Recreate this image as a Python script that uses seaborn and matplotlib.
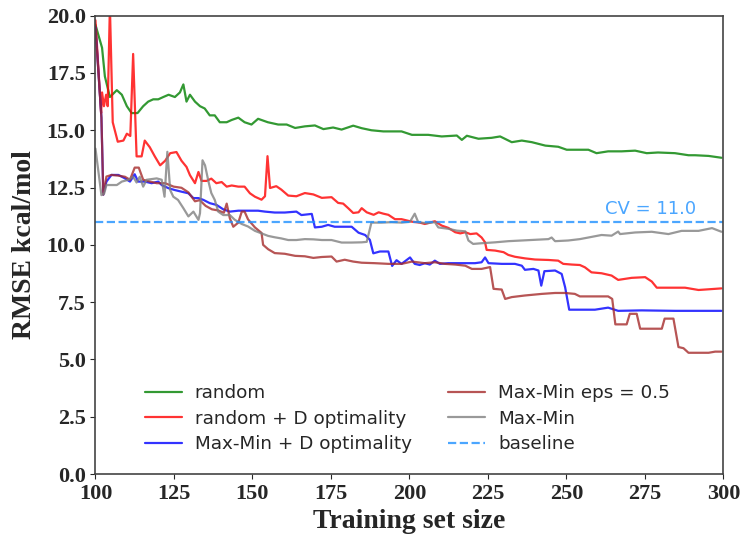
import pandas as pd
import seaborn as sns
import matplotlib.pyplot as plt

# --- data ---
random_x = [100, 102.1, 103.0, 104.6, 106.8, 108.4, 110.0, 111.5, 113.4, 115.2, 116.8, 118.4,
            120.0, 121.6, 123.3, 125.3, 126.9, 128.0, 129.0, 130.1, 131.7, 133.3, 134.8, 136.4,
            138.0, 139.6, 141.8, 143.4, 145.5, 147.5, 149.7, 151.8, 154.9, 158.2, 160.9, 163.6,
            166.7, 169.9, 172.6, 175.7, 178.4, 182.1, 184.8, 187.9, 191.7, 194.9, 197.5, 200.8,
            206.0, 210.3, 215.1, 216.7, 218.3, 222.0, 226.2, 228.9, 232.6, 235.8, 239.0,
            243.3, 247.4, 250.1, 254.3, 257.0, 259.6, 263.3, 267.6, 271.9, 275.6, 279.2,
            284.6, 288.9, 291, 295.3, 299.4]
random_y = [19.6, 18.6, 17.35, 16.45, 16.75, 16.55, 16.05, 15.75, 15.75, 16.05, 16.25, 16.35,
            16.35, 16.45, 16.55, 16.45, 16.65, 17.0, 16.25, 16.55, 16.25, 16.05, 15.95, 15.65,
            15.65, 15.35, 15.35, 15.45, 15.55, 15.35, 15.25, 15.5, 15.35, 15.25, 15.25, 15.1,
            15.17, 15.21, 15.05, 15.12, 15.03, 15.2, 15.09, 15.0, 14.95, 14.95, 14.95, 14.8,
            14.8, 14.73, 14.77, 14.58, 14.76, 14.63, 14.67, 14.73, 14.48, 14.55, 14.48,
            14.33, 14.28, 14.15, 14.15, 14.15, 14.0, 14.08, 14.08, 14.11, 14.0, 14.03,
            14.0, 13.91, 13.91, 13.88, 13.8]

rand_d_x = [100, 101.8, 102.1, 102.7, 103.4, 103.9, 104.6, 105.5, 107.1, 108.9, 110.0, 111.1,
            112.0, 113.1, 114.7, 115.7, 117.3, 118.9, 120.6, 122.2, 123.8, 125.8, 127.4,
            129.0, 130.1, 131.7, 132.8, 133.8, 135.4, 136.9, 138.5, 140.2, 141.8, 143.4,
            145.5, 147.5, 149.2, 150.8, 152.9, 154.0, 154.8, 155.6, 157.6, 159.2, 161.4,
            164.0, 166.7, 169.4, 172.1, 175.2, 177.3, 178.9, 180.5, 182.1, 183.8, 184.8, 186.4,
            188.6, 190.2, 191.7, 193.3, 195.4, 197.5, 200.8, 203.3, 204.9, 208.1, 210.3,
            212.4, 214.6, 216.2, 217.8, 219.4, 221.4, 223.0, 224.1, 224.6, 227.3, 230.0,
            231.5, 233.6, 236.8, 240.0, 244.3, 247.4, 249.0, 251.7, 254.3, 255.9, 258.0,
            261.2, 264.4, 266.5, 270.8, 275.1, 277.2, 278.8, 282.5, 287.8, 292.1, 295.3, 299.4]
rand_d_y = [19.8, 15.75, 16.65, 16.05, 16.55, 16.05, 20.4, 15.35, 14.5, 14.55, 14.85, 14.75,
            18.33, 13.86, 13.86, 14.55, 14.26, 13.86, 13.47, 13.67, 14.0, 14.05, 13.67,
            13.4, 13.04, 12.69, 13.18, 12.79, 12.79, 12.89, 12.69, 12.74, 12.54, 12.59,
            12.54, 12.54, 12.25, 12.1, 11.97, 12.12, 13.87, 12.48, 12.56, 12.41, 12.15,
            12.12, 12.26, 12.2, 12.05, 12.08, 11.83, 11.8, 11.6, 11.39, 11.42, 11.6, 11.42,
            11.31, 11.42, 11.36, 11.31, 11.12, 11.12, 11.01, 10.97, 10.91, 11.03, 10.84,
            10.74, 10.55, 10.5, 10.55, 10.47, 10.5, 10.32, 10.11, 9.78, 9.75, 9.68,
            9.56, 9.48, 9.41, 9.36, 9.34, 9.31, 9.17, 9.14, 9.12, 9.02, 8.8,
            8.76, 8.66, 8.47, 8.56, 8.59, 8.4, 8.13, 8.13, 8.13, 8.03, 8.06, 8.1]

mm_d_x = [100, 101.9, 102.5, 103.5, 105.1, 107.3, 109.4, 111.0, 112.5, 113.6, 115.7, 117.9,
          120.0, 121.1, 123.3, 125.3, 127.4, 129.6, 131.2, 132.8, 134.4, 136.4, 138.6, 140.7,
          142.8, 145.5, 148.6, 151.8, 154.0, 157.1, 160.3, 164.0, 165.6, 168.9, 169.9, 172.1,
          174.1, 176.2, 178.9, 181.6, 183.8, 185.9, 187.4, 188.5, 190.6, 193.3, 194.5,
          195.9, 197.5, 200.2, 201.7, 203.3, 204.9, 206.5, 208.1, 209.7, 212.4, 216.7,
          220.9, 223.0, 224.1, 225.2, 229.4, 233.6, 235.8, 236.8, 239.5, 241.1, 242.0,
          243.0, 246.4, 248.5, 249.6, 250.9, 254.3, 259.1, 263.3, 266.5, 274.0, 284.6, 299.4]
mm_d_y = [19.5, 15.55, 12.19, 12.76, 13.05, 13.05, 12.9, 12.76, 13.08, 12.76, 12.76, 12.69,
          12.76, 12.61, 12.47, 12.39, 12.32, 12.25, 12.04, 12.04, 11.96, 11.82, 11.74, 11.55,
          11.45, 11.49, 11.49, 11.49, 11.45, 11.41, 11.41, 11.45, 11.3, 11.35, 10.76, 10.79,
          10.87, 10.79, 10.79, 10.79, 10.53, 10.43, 10.22, 9.63, 9.71, 9.71, 9.08,
          9.33, 9.17, 9.45, 9.17, 9.12, 9.2, 9.14, 9.31, 9.17, 9.2, 9.2,
          9.2, 9.24, 9.45, 9.2, 9.17, 9.17, 9.09, 8.91, 8.95, 8.88, 8.22,
          8.85, 8.88, 8.73, 8.15, 7.17, 7.17, 7.17, 7.26, 7.12, 7.14, 7.12, 7.12]

mm_eps_x = [100, 101.9, 102.5, 103.5, 105.1, 107.3, 109.4, 111.0, 112.5, 113.8, 115.2, 117.4,
            119.5, 122.2, 124.9, 127.4, 129.6, 131.7, 133.2, 135.1, 137.1, 139.1, 140.9, 141.8,
            142.8, 143.9, 145.5, 146.6, 147.5, 148.6, 150.8, 152.9, 153.4, 155.0, 157.1,
            160.3, 163.6, 166.7, 169.4, 172.1, 175.2, 176.8, 179.4, 182.1, 184.8, 189.0, 193.3,
            197.5, 200.8, 204.9, 208.1, 211.3, 214.6, 217.8, 219.9, 223.0, 225.7, 226.8,
            229.4, 230.5, 232.6, 236.8, 242.2, 246.4, 249.6, 252.7, 254.3, 259.1, 263.3,
            264.6, 265.6, 269.2, 270.2, 272.4, 273.5, 276.7, 280.4, 281.3, 284.1, 285.7,
            287.3, 288.9, 295.3, 297.4, 299.4]
mm_eps_y = [19.5, 15.55, 12.19, 12.98, 13.05, 13.02, 12.97, 12.84, 13.37, 13.37, 12.84, 12.76,
            12.69, 12.69, 12.54, 12.49, 12.29, 11.9, 11.95, 11.7, 11.55, 11.5, 11.4, 11.8,
            11.16, 10.79, 10.97, 11.45, 11.45, 11.11, 10.76, 10.52, 10.0, 9.81, 9.64,
            9.61, 9.52, 9.5, 9.43, 9.47, 9.49, 9.27, 9.35, 9.27, 9.22, 9.2, 9.17,
            9.17, 9.27, 9.2, 9.24, 9.17, 9.14, 9.09, 8.95, 8.95, 9.03, 8.08,
            8.05, 7.64, 7.72, 7.79, 7.86, 7.9, 7.9, 7.86, 7.75, 7.75, 7.75,
            7.64, 6.53, 6.53, 6.99, 6.99, 6.34, 6.34, 6.34, 6.78, 6.78, 5.54,
            5.49, 5.29, 5.29, 5.34, 5.34]

mm_x = [100, 101.9, 102.8, 103.5, 105.1, 106.8, 108.4, 110.5, 112.0, 113.1, 114.1, 115.2,
        116.3, 117.9, 119.5, 121.1, 122.0, 122.9, 123.8, 124.8, 126.3, 128.0, 129.6, 131.2,
        132.8, 133.3, 134.1, 134.9, 136.0, 136.9, 138.0, 139.1, 140.7, 142.8, 144.4, 146.6,
        148.6, 150.8, 152.9, 155.0, 157.1, 159.2, 161.4, 164.0, 166.7, 169.4, 172.1, 175.2,
        178.4, 181.6, 184.8, 186.4, 187.9, 191.1, 194.3, 197.5, 200.2, 201.7, 202.8, 205.5,
        208.1, 209.2, 212.4, 215.1, 217.8, 218.8, 220.3, 223.0, 227.3, 231.5, 235.8,
        240.0, 244.3, 245.3, 246.4, 250.6, 254.3, 257.0, 261.2, 264.4, 266.5, 267.1, 271.9,
        277.2, 282.5, 286.7, 292.1, 296.4, 299.4]
mm_y = [14.2, 12.17, 12.25, 12.61, 12.61, 12.61, 12.76, 12.84, 12.97, 12.72, 12.97, 12.54,
        12.84, 12.87, 12.9, 12.84, 12.1, 14.06, 12.39, 12.1, 11.96, 11.6, 11.24, 11.45,
        11.09, 11.38, 13.69, 13.47, 12.76, 12.26, 11.96, 11.45, 11.3, 11.3, 11.09, 10.91,
        10.8, 10.61, 10.5, 10.39, 10.33, 10.28, 10.21, 10.21, 10.25, 10.24, 10.21, 10.21,
        10.1, 10.1, 10.11, 10.13, 10.97, 10.97, 10.99, 10.97, 11.01, 11.36, 10.99, 10.94,
        10.99, 10.76, 10.7, 10.62, 10.59, 10.19, 10.04, 10.07, 10.11, 10.16, 10.19,
        10.22, 10.25, 10.32, 10.16, 10.19, 10.25, 10.32, 10.43, 10.4, 10.58, 10.47, 10.54,
        10.57, 10.47, 10.61, 10.61, 10.73, 10.57]

cv_value = 11.0
cv_text = 'CV = 11.0'

series = [
    ('random', random_x, random_y, 'green'),
    ('random + D optimality', rand_d_x, rand_d_y, 'red'),
    ('Max-Min + D optimality', mm_d_x, mm_d_y, 'blue'),
    ('Max-Min eps = 0.5', mm_eps_x, mm_eps_y, 'brown'),
    ('Max-Min', mm_x, mm_y, 'gray'),
]

sns.set_style('ticks')
plt.rcParams['font.family'] = ['DejaVu Sans']

fig, ax = plt.subplots(figsize=(7.4, 5.35), dpi=100)
fig.subplots_adjust(left=0.129, right=0.9775, top=0.9707, bottom=0.114)

for name, xs, ys, col in series:
    df = pd.DataFrame({'size': xs, 'rmse': ys})
    sns.lineplot(data=df, x='size', y='rmse', ax=ax, color=col, alpha=0.8,
                 linewidth=1.6, label=name, estimator=None, sort=False)

ax.axhline(cv_value, color='dodgerblue', alpha=0.8, linestyle='--', linewidth=1.6,
           label='baseline')
ax.text(262.3, cv_value + 0.15, cv_text, color='dodgerblue', alpha=0.8, fontsize=13,
        va='bottom', ha='left')

ax.set_xlim(100, 300)
ax.set_ylim(0, 20)
ax.set_xticks(range(100, 301, 25))
ax.set_yticks([i * 2.5 for i in range(9)])
ax.set_yticklabels([f'{i * 2.5:.1f}' for i in range(9)])

serif = dict(family='Liberation Serif', weight='bold')
for lab in ax.get_xticklabels() + ax.get_yticklabels():
    lab.set_fontfamily('Liberation Serif')
    lab.set_fontweight('bold')
    lab.set_fontsize(16)
ax.set_xlabel('Training set size', fontsize=20, **serif)
ax.set_ylabel('RMSE kcal/mol', fontsize=20, labelpad=7, **serif)

for sp in ax.spines.values():
    sp.set_color('#444444')
    sp.set_linewidth(1.2)

ax.legend(loc='lower center', bbox_to_anchor=(0.497, 0.009), ncol=2, frameon=False,
          fontsize=13.2, labelspacing=0.42, handletextpad=0.7)

plt.savefig('out.png', dpi=100)
